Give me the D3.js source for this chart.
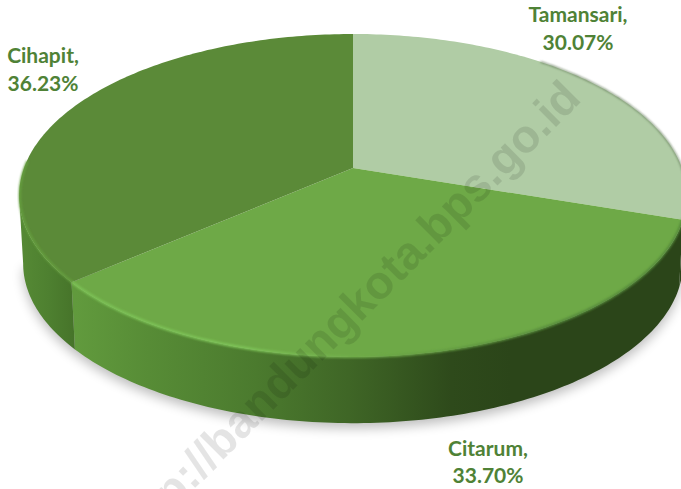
<!DOCTYPE html>
<html>
<head>
<meta charset="utf-8">
<script src="https://cdn.jsdelivr.net/npm/d3@7"></script>
<style>
  html, body { margin: 0; padding: 0; background: #fff; }
  svg { display: block; }
  text { font-family: Lato, "Open Sans", sans-serif; }
</style>
</head>
<body>
<script>
var categories = ["Tamansari", "Citarum", "Cihapit"];
var values = [30.07, 33.70, 36.23];
var valueLabels = ["30.07%", "33.70%", "36.23%"];
var topColours = ["#b0cca5", "#6ea947", "#5b8a38"];
var watermark = "http://bandungkota.bps.go.id";

var width = 681, height = 489;

// pie is a flat disc seen in perspective, so the middle is not the middle of the ellipse
var apexX = 353, apexY = 168;
var spreadX = 329, spreadY = 156.8, tilt = 0.17;
var depth = 68.5, bottomShrink = 0.988;

// angles where the disc outline is widest, the rim only shows between these two
var rimStart = Math.acos(-tilt);
var rimEnd = 2 * Math.PI - rimStart;

function project(angle, shrink, drop){
  var s = Math.sin(angle), c = Math.cos(angle);
  var w = 1 + tilt * c;
  return [apexX + shrink * spreadX * s / w, apexY + drop - shrink * spreadY * c / w];
}

function arcPoints(a0, a1, shrink, drop){
  var n = Math.max(2, Math.ceil((a1 - a0) * 60));
  return d3.range(n + 1).map(function(i){
    return project(a0 + (a1 - a0) * i / n, shrink, drop);
  });
}

var line = d3.line();

var svg = d3.select("body").append("svg")
  .attr("width", width)
  .attr("height", height);

var defs = svg.append("defs");

function addGradient(id, x1, x2, stops){
  var g = defs.append("linearGradient")
    .attr("id", id)
    .attr("gradientUnits", "userSpaceOnUse")
    .attr("x1", x1).attr("x2", x2)
    .attr("y1", 0).attr("y2", 0);
  stops.forEach(function(d){
    g.append("stop").attr("offset", d[0]).attr("stop-color", d[1]);
  });
}

addGradient("side0", 600, 681, [[0, "#2b4519"], [1, "#2b4519"]]);
addGradient("side1", 76, 681, [
  [0, "#619a3d"], [0.12, "#578c36"], [0.3, "#4b7a2e"], [0.45, "#3f6626"],
  [0.62, "#2e4a1b"], [0.72, "#2b4519"], [1, "#2b4519"]
]);
addGradient("side2", 19, 78, [[0, "#568a35"], [0.5, "#4e8030"], [1, "#457229"]]);
addGradient("rim", 76, 560, [
  [0, "#7cc255"], [0.35, "#7fc659"], [0.6, "#6ea947"], [1, "#55893a"]
]);

defs.append("filter").attr("id", "blur8")
  .attr("x", "-10%").attr("y", "-10%").attr("width", "120%").attr("height", "120%")
  .append("feGaussianBlur").attr("stdDeviation", 6);
defs.append("filter").attr("id", "blur1")
  .attr("x", "-5%").attr("y", "-5%").attr("width", "110%").attr("height", "110%")
  .append("feGaussianBlur").attr("stdDeviation", 1.1);

var slices = d3.pie().sort(null)(values);

// soft shadow under the disc
svg.append("path")
  .attr("d", line(arcPoints(rimStart, rimEnd, bottomShrink, depth + 5)) + "Z")
  .attr("fill", "#000")
  .attr("opacity", 0.26)
  .attr("filter", "url(#blur8)");

// rim of each slice, only the front part is ever seen
svg.selectAll(".side")
  .data(slices)
  .enter().append("path")
  .attr("class", "side")
  .attr("d", function(d){
    var a0 = Math.max(d.startAngle, rimStart);
    var a1 = Math.min(d.endAngle, rimEnd);
    var upper = arcPoints(a0, a1, 1, 0);
    var lower = arcPoints(a0, a1, bottomShrink, depth).reverse();
    return line(upper.concat(lower)) + "Z";
  })
  .attr("fill", function(d, i){ return "url(#side" + i + ")"; });

// top faces
svg.selectAll(".face")
  .data(slices)
  .enter().append("path")
  .attr("class", "face")
  .attr("d", function(d){
    return line([[apexX, apexY]].concat(arcPoints(d.startAngle, d.endAngle, 1, 0))) + "Z";
  })
  .attr("fill", function(d, i){ return topColours[i]; });

// lighter bevel along the front edge of Citarum and Cihapit
svg.append("path")
  .attr("d", line(arcPoints(slices[1].startAngle, slices[1].endAngle, 0.999, 0)))
  .attr("fill", "none")
  .attr("stroke", "url(#rim)")
  .attr("stroke-width", 2.6)
  .attr("filter", "url(#blur1)");
svg.append("path")
  .attr("d", line(arcPoints(slices[2].startAngle, slices[2].startAngle + 0.75, 0.998, 0)))
  .attr("fill", "none")
  .attr("stroke", "#66a03f")
  .attr("stroke-width", 2.2)
  .attr("filter", "url(#blur1)");
svg.append("path")
  .attr("d", line(arcPoints(0.7, slices[0].endAngle, 1, 0)))
  .attr("fill", "none")
  .attr("stroke", "#5f7554")
  .attr("stroke-width", 1.2)
  .attr("filter", "url(#blur1)");

// labels
var labelBoxes = [
  {x: 578, y: 22},
  {x: 488, y: 456},
  {x: 43, y: 63}
];
var labelGap = [28, 27, 28];

var labels = svg.selectAll(".label")
  .data(categories)
  .enter().append("text")
  .attr("class", "label")
  .attr("text-anchor", "middle")
  .attr("fill", "#4f8236")
  .attr("font-size", 21)
  .attr("font-weight", 700);

labels.append("tspan")
  .attr("x", function(d, i){ return labelBoxes[i].x; })
  .attr("y", function(d, i){ return labelBoxes[i].y; })
  .text(function(d){ return d + ","; });
labels.append("tspan")
  .attr("x", function(d, i){ return labelBoxes[i].x; })
  .attr("y", function(d, i){ return labelBoxes[i].y + labelGap[i]; })
  .text(function(d, i){ return valueLabels[i]; });

// site watermark across the chart
svg.append("text")
  .attr("transform", "translate(130,553) rotate(-45)")
  .attr("font-size", 46.5)
  .attr("font-weight", 700)
  .style("font-family", "'Liberation Sans', Arial, sans-serif")
  .attr("fill", "#000")
  .attr("opacity", 0.1)
  .text(watermark);
</script>
</body>
</html>
